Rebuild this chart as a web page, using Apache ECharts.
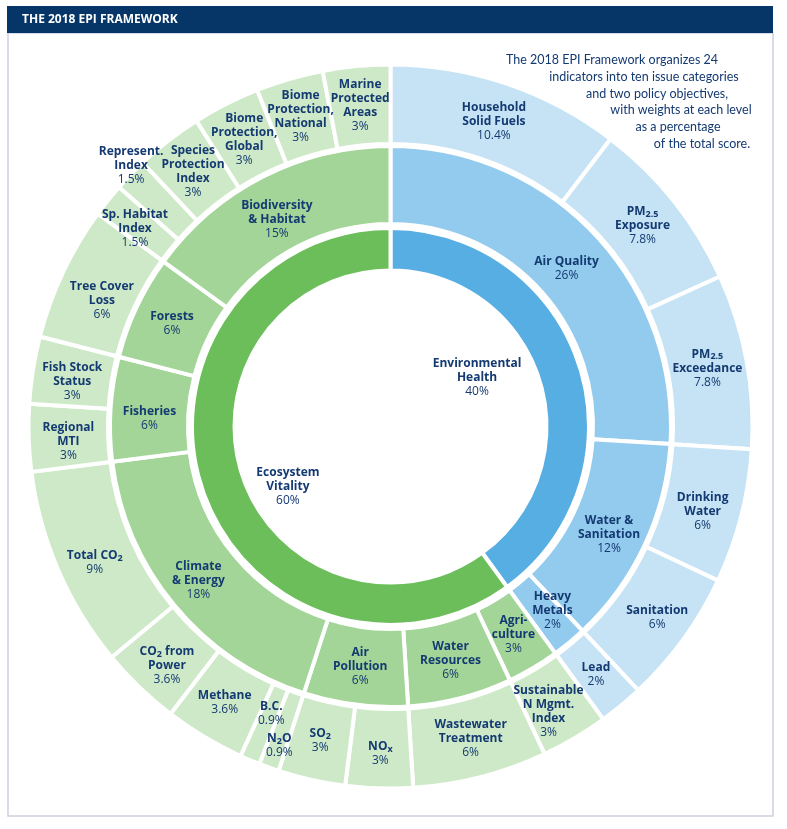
<!DOCTYPE html>
<html>
<head>
<meta charset="utf-8">
<script src="https://cdn.jsdelivr.net/npm/echarts@6/dist/echarts.min.js"></script>
<style>
  html, body { margin: 0; padding: 0; background: #fff; }
  #chart { width: 787px; height: 829px; }
</style>
</head>
<body>
<div id="chart"></div>
<script>
// policy objectives (inner ring)
const objectives = ['Environmental\nHealth', 'Ecosystem\nVitality'];
const objectiveWeights = [40, 60];

// issue categories (middle ring), clockwise from 12 o'clock
const categories = ['Air Quality', 'Water &\nSanitation', 'Heavy\nMetals', 'Agri-\nculture', 'Water\nResources',
  'Air\nPollution', 'Climate\n& Energy', 'Fisheries', 'Forests', 'Biodiversity\n& Habitat'];
const categoryWeights = [26, 12, 2, 3, 6, 6, 18, 6, 6, 15];
const categoryObjective = [0, 0, 0, 1, 1, 1, 1, 1, 1, 1];

// indicators (outer ring); ~x~ marks a subscript
const indicators = ['Household\nSolid Fuels', 'PM~2.5~\nExposure', 'PM~2.5~\nExceedance', 'Drinking\nWater',
  'Sanitation', 'Lead', 'Sustainable\nN Mgmt.\nIndex', 'Wastewater\nTreatment', 'NO~x~', 'SO~2~', 'N~2~O',
  'B.C.', 'Methane', 'CO~2~ from\nPower', 'Total CO~2~', 'Regional\nMTI', 'Fish Stock\nStatus',
  'Tree Cover\nLoss', 'Sp. Habitat\nIndex', 'Represent.\nIndex', 'Species\nProtection\nIndex',
  'Biome\nProtection,\nGlobal', 'Biome\nProtection,\nNational', 'Marine\nProtected\nAreas'];
const indicatorWeights = [10.4, 7.8, 7.8, 6, 6, 2, 3, 6, 3, 3, 0.9, 0.9, 3.6, 3.6, 9, 3, 3, 6, 1.5, 1.5, 3, 3, 3, 3];
const indicatorCategory = [0, 0, 0, 1, 1, 2, 3, 4, 5, 5, 6, 6, 6, 6, 6, 7, 7, 8, 9, 9, 9, 9, 9, 9];

const descLines = ['The 2018 EPI Framework organizes 24', 'indicators into ten issue categories',
  'and two policy objectives,', 'with weights at each level', 'as a percentage', 'of the total score.'];

const navy = '#143a72';
const font = '"Open Sans", Lato, sans-serif';
// [inner, middle, outer] per objective
const palette = [['#56aee3', '#93cbee', '#c6e3f5'], ['#6cbe5b', '#a2d597', '#cee9c7']];
// label shifts [dx, dy] from the default slice centre
const shift = {
  'Environmental\nHealth': [-82, 6],
  'Ecosystem\nVitality': [66, 5],
  'B.C.': [6, -10],
  'N~2~O': [-3, 16],
  'Represent.\nIndex': [-28, -37],
  'Sp. Habitat\nIndex': [-4, 4],
  'Biodiversity\n& Habitat': [-4, 8],
  'Tree Cover\nLoss': [3, 11],
  'Fish Stock\nStatus': [0, 5],
  'Regional\nMTI': [0, 5],
  'Fisheries': [0, 7],
  'Climate\n& Energy': [-6, 0],
  'Total CO~2~': [0, 8],
  'CO~2~ from\nPower': [0, 7],
  'NO~x~': [0, 5],
  'Heavy\nMetals': [8, -2],
  'Sustainable\nN Mgmt.\nIndex': [-6, 8],
  'Drinking\nWater': [0, 5],
  'Water &\nSanitation': [0, 5],
  'Air Quality': [0, 7],
  'Sanitation': [6, 2]
};

function richName(name) {
  return name.split('\n').map(line =>
    line.split('~').map((part, i) => part === '' ? '' : (i % 2 ? '{s|' + part + '}' : '{n|' + part + '}')).join('')
  ).join('\n');
}

function node(name, value, color) {
  const n = { name, value, itemStyle: { color } };
  const s = shift[name];
  if (s) {
    const [dx, dy] = s;
    n.label = { padding: [Math.max(0, 2 * dy), Math.max(0, -2 * dx), Math.max(0, -2 * dy), Math.max(0, 2 * dx)] };
  }
  return n;
}

const tree = objectives.map((oname, o) => {
  const top = node(oname, objectiveWeights[o], palette[o][0]);
  top.children = categories.flatMap((cname, c) => {
    if (categoryObjective[c] !== o) return [];
    const cat = node(cname, categoryWeights[c], palette[o][1]);
    cat.children = indicators.flatMap((iname, k) =>
      indicatorCategory[k] !== c ? [] : [node(iname, indicatorWeights[k], palette[o][2])]);
    return [cat];
  });
  return top;
});

const myChart = echarts.init(document.getElementById('chart'));
const option = {
  animation: false,
  graphic: [
    { type: 'rect', shape: { x: 8, y: 33, width: 765, height: 783 }, style: { fill: 'none', stroke: '#cdd1e1', lineWidth: 1.5 } },
    { type: 'rect', shape: { x: 7, y: 6, width: 766, height: 27 }, style: { fill: '#063567' } },
    { type: 'text', x: 22, y: 19.5, style: { text: 'THE 2018 EPI FRAMEWORK', fill: '#fff', font: 'bold 12px ' + font, verticalAlign: 'middle' } }
  ].concat(descLines.map((t, i) => ({
    type: 'text',
    x: [612, 644, 657, 681, 678, 702][i],
    y: 60 + i * 16.8,
    style: { text: t, fill: navy, font: '12.5px Lato, sans-serif', align: 'center', verticalAlign: 'middle' }
  }))),
  series: [{
    type: 'sunburst',
    center: [390.5, 426.5],
    startAngle: 90,
    sort: null,
    nodeClick: false,
    data: tree,
    itemStyle: { borderColor: '#fff', borderWidth: 4 },
    emphasis: { focus: 'none' },
    label: {
      rotate: 0,
      formatter: p => richName(p.name) + '\n{v|' + p.value + '%}',
      rich: {
        n: { fontFamily: font, fontWeight: 'bold', fontSize: 12, color: navy, lineHeight: 14 },
        s: { fontFamily: font, fontWeight: 'bold', fontSize: 9, color: navy, verticalAlign: 'bottom' },
        v: { fontFamily: font, fontSize: 12, color: navy, lineHeight: 14 }
      }
    },
    levels: [
      {},
      { r0: 156, r: 198.5 },
      { r0: 202.5, r: 280.5 },
      { r0: 282.5, r: 362 }
    ]
  }]
};
option && myChart.setOption(option);
</script>
</body>
</html>
